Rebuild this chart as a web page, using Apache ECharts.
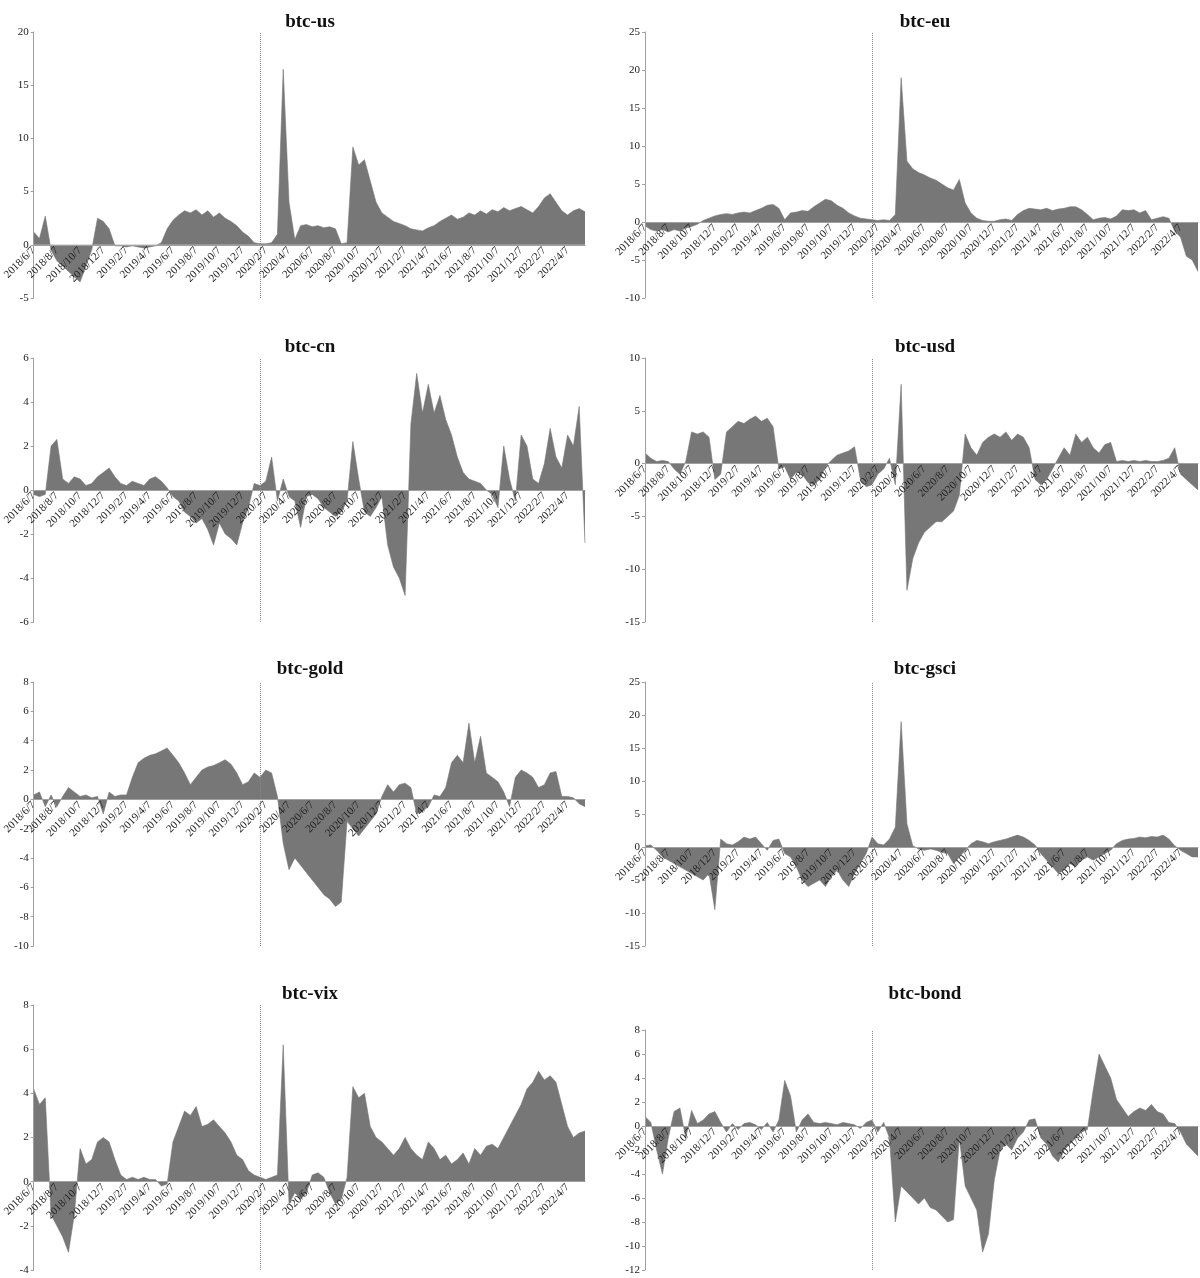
<!DOCTYPE html>
<html>
<head>
<meta charset="utf-8">
<script src="https://cdn.jsdelivr.net/npm/echarts@6/dist/echarts.min.js"></script>
<style>
  html, body { margin: 0; padding: 0; background: #fff; }
  #chart { width: 1200px; height: 1278px; }
</style>
</head>
<body>
<div id="chart"></div>
<script>
// semi-monthly dates from 2018/6/7 to 2022/5/22
const dates = [];
for (let i = 0; i < 96; i += 1) {
  const m = 5 + Math.floor(i / 2);
  const y = 2018 + Math.floor(m / 12);
  dates.push(`${y}/${(m % 12) + 1}/${i % 2 === 0 ? 7 : 22}`);
}

const btcUs = [1.2,0.6,2.7,-0.5,-1.5,-2,-2.5,-3,-3.5,-2,-0.5,2.5,2.2,1.5,-0.1,-0.1,-0.2,-0.1,-0.2,-0.3,-0.2,-0.1,0.2,1.5,
  2.3,2.8,3.2,3,3.3,2.8,3.2,2.6,3,2.5,2.2,1.8,1.2,0.8,0.2,0.1,0.1,0.2,1,16.5,4,0.5,1.8,1.9,1.7,1.8,1.6,1.7,1.5,0.1,
  0.2,9.2,7.5,8,6,4,3,2.6,2.2,2,1.8,1.5,1.4,1.3,1.6,1.8,2.2,2.5,2.8,2.4,2.6,3,2.8,3.2,2.9,3.3,3.1,3.5,3.2,3.4,3.6,
  3.3,3,3.6,4.4,4.8,4,3.2,2.8,3.2,3.4,3.1];
const btcEu = [-0.5,-1,-1.2,-1,-1.3,-1,-1.2,-0.8,-0.6,-0.3,0.2,0.5,0.8,1,1.1,1,1.2,1.3,1.2,1.5,1.8,2.2,2.3,1.8,0.3,
  1.2,1.3,1.5,1.4,2,2.5,3,2.8,2.2,1.8,1.2,0.8,0.5,0.4,0.3,0.2,0.3,0.2,1,19,8,7,6.5,6.2,5.8,5.5,5,4.5,4.2,5.6,2.5,
  1.2,0.5,0.2,0.1,0.1,0.3,0.4,0.2,1,1.5,1.8,1.7,1.6,1.8,1.5,1.7,1.8,2,2,1.6,1,0.3,0.5,0.6,0.4,0.8,1.6,1.5,1.6,1.2,
  1.5,0.3,0.5,0.7,0.5,-1.2,-2,-4.5,-5,-6.5];
const btcCn = [-0.2,-0.3,-0.2,2,2.3,0.5,0.3,0.6,0.5,0.2,0.3,0.6,0.8,1,0.6,0.3,0.2,0.4,0.3,0.2,0.5,0.6,0.4,0.1,-0.3,
  -0.5,-1,-1.2,-1.5,-1.3,-1.8,-2.5,-1.5,-2,-2.2,-2.5,-1.5,-0.8,0.3,0.2,0.4,1.5,-0.5,0.5,-0.3,-0.5,-1.7,-0.3,-0.2,
  -0.4,-0.8,-1,-1.2,-1,-0.5,2.2,0.5,-1,-1.2,-0.8,-0.3,-2.5,-3.5,-4,-4.8,3,5.3,3.5,4.8,3.5,4.3,3.2,2.5,1.5,0.8,0.5,
  0.4,0.3,0,-0.2,-0.8,2,0.5,-0.5,2.5,2,0.5,0.3,1.2,2.8,1.5,1,2.5,2,3.8,-2.4];
const btcUsd = [1,0.5,0.2,0.3,0.2,-0.5,-1,0.2,3,2.8,3,2.5,-1.5,-1,3,3.5,4,3.8,4.2,4.5,4,4.3,3.5,-0.5,-0.3,-1.5,-0.8,
  -1,-1.8,-2,-1.5,-0.3,0.3,0.8,1,1.2,1.6,-1.5,-2.2,-2,-1,-0.5,0.5,-2,7.5,-12,-9,-7.5,-6.5,-6,-5.5,-5.5,-5,-4.5,-3,
  2.8,1.5,0.8,2,2.5,2.8,2.5,3,2.2,2.8,2.5,1.5,-1.5,-2,-1.5,-0.5,0.5,1.5,0.8,2.8,2,2.5,1.5,1,1.8,2,0.2,0.3,0.2,0.3,
  0.2,0.3,0.2,0.2,0.3,0.5,1.5,-1,-1.5,-2,-2.5];
const btcGold = [0.3,0.5,-0.5,0.3,-0.5,0.2,0.8,0.5,0.2,0.3,0.1,0.2,-1,0.5,0.2,0.3,0.3,1.5,2.5,2.8,3,3.1,3.3,3.5,3,
  2.5,1.8,1,1.5,2,2.2,2.3,2.5,2.7,2.4,1.8,1,1.2,1.8,1.5,2,1.8,0.2,-3,-4.8,-4,-4.5,-5,-5.5,-6,-6.5,-6.8,-7.3,-7,-1.5,
  -2,-2.5,-2,-1.5,-1,0.2,1,0.5,1,1.1,0.8,-1,-0.8,-0.5,0.3,0.2,0.8,2.5,3,2.5,5.2,2.5,4.3,1.8,1.5,1.2,0.5,-0.5,1.5,2,
  1.8,1.5,0.8,1,1.8,1.9,0.2,0.2,0.1,-0.3,-0.5];
const btcGsci = [0.2,0.3,-0.5,-1.5,-2,-2.5,-3,-3.5,-4,-4.5,-5,-4,-9.5,1.2,0.5,0.3,0.8,1.5,1.2,1.5,0.5,-0.5,1,1.2,-1,
  -1.5,-3,-5,-6,-5.5,-5,-6,-4.5,-3.5,-5,-6,-4,-2.5,-1,1.5,0.5,0.3,1.2,3,19,3.5,0.2,-0.3,-0.5,-0.3,-0.5,-0.8,-1,-2.5,
  -1.5,-0.5,0.5,1,0.8,0.5,0.8,1,1.2,1.5,1.8,1.5,1,0.3,-1,-2,-3,-4,-3.5,-2.5,-3,-2,-1.5,-2,-1.5,-1,-0.5,0.5,1,1.2,
  1.3,1.5,1.4,1.6,1.5,1.8,1.2,0.2,-0.5,-1,-1.5,-1.5];
const btcVix = [4.2,3.5,3.8,-1.5,-2,-2.5,-3.2,-1.5,1.5,0.8,1,1.8,2,1.8,1,0.3,0.1,0.2,0.1,0.2,0.1,0.1,-0.2,-0.1,1.8,
  2.5,3.2,3,3.4,2.5,2.6,2.8,2.5,2.2,1.8,1.2,1,0.5,0.3,0.2,0.1,0.2,0.3,6.2,-1,-0.5,-0.8,-0.5,0.3,0.4,0.2,-0.5,-1,-0.8,
  0.2,4.3,3.8,4,2.5,2,1.8,1.5,1.2,1.5,2,1.5,1.2,1,1.8,1.5,1,1.2,0.8,1,1.3,0.8,1.5,1.2,1.6,1.7,1.5,2,2.5,3,3.5,4.2,
  4.5,5,4.6,4.8,4.5,3.5,2.5,2,2.2,2.3];
const btcBond = [0.8,0.3,-2,-4,-1,1.2,1.5,-1,1.3,0.2,0.5,1,1.2,0.3,-0.5,0.2,-0.3,0.2,0.3,0.1,-0.3,0.3,-0.5,0.5,3.8,
  2.5,-0.5,0.5,1,0.3,0.2,0.3,0.2,0.1,0.3,0.2,0.1,-0.2,0.3,0.5,-0.5,0.3,-1,-8,-5,-5.5,-6,-6.5,-6,-6.8,-7,-7.5,-8,-7.8,
  -1,-5,-6,-7,-10.5,-9,-4.5,-2,-1.5,-2,-1,-0.5,0.5,0.6,-1,-1.5,-2.5,-3,-2,-1.5,-1,-0.5,-0.3,3,6,5,4,2.2,1.5,0.8,
  1.2,1.5,1.3,1.8,1.2,1,0.3,0.2,-0.5,-1.5,-2,-2.5];

const panels = [
  { title: 'btc-us', data: btcUs, min: -5, max: 20, interval: 5, left: 30, top: 32, bottom: 298 },
  { title: 'btc-eu', data: btcEu, min: -10, max: 25, interval: 5, left: 645, top: 32, bottom: 298 },
  { title: 'btc-cn', data: btcCn, min: -6, max: 6, interval: 2, left: 30, top: 358, bottom: 622 },
  { title: 'btc-usd', data: btcUsd, min: -15, max: 10, interval: 5, left: 645, top: 358, bottom: 622 },
  { title: 'btc-gold', data: btcGold, min: -10, max: 8, interval: 2, left: 30, top: 682, bottom: 946 },
  { title: 'btc-gsci', data: btcGsci, min: -15, max: 25, interval: 5, left: 645, top: 682, bottom: 946 },
  { title: 'btc-vix', data: btcVix, min: -4, max: 8, interval: 2, left: 30, top: 1005, bottom: 1270 },
  { title: 'btc-bond', data: btcBond, min: -12, max: 8, interval: 2, left: 645, top: 1030, bottom: 1270 }
];
const titleTops = [8, 8, 333, 333, 655, 655, 980, 980];

const serif = '"Liberation Serif", "Times New Roman", serif';
const axisGray = '#a0a0a0';
const fill = '#777777';

// place the category axis on the zero line by offsetting it up from the grid bottom
function zeroOffset(p) {
  const h = p.bottom - p.top;
  return -h * (0 - p.min) / (p.max - p.min);
}

const chart = echarts.init(document.getElementById('chart'));
chart.setOption({
  animation: false,
  title: panels.map((p, i) => ({
    text: p.title,
    left: p.left < 100 ? 305 : 920,
    top: titleTops[i],
    textAlign: 'center',
    textStyle: { fontFamily: serif, fontSize: 19, fontWeight: 'bold', color: '#111' }
  })),
  grid: panels.map((p) => ({
    left: p.left,
    width: p.left < 100 ? 555 : 553,
    top: p.top,
    height: p.bottom - p.top
  })),
  xAxis: panels.map((p, i) => ({
    type: 'category',
    gridIndex: i,
    data: dates,
    boundaryGap: false,
    position: 'bottom',
    offset: zeroOffset(p),
    z: 10,
    axisLine: { onZero: false, lineStyle: { color: axisGray } },
    axisTick: { show: false },
    axisLabel: {
      interval: 3,
      rotate: 45,
      fontFamily: serif,
      fontSize: 11,
      color: '#222',
      margin: 4
    },
    splitLine: { show: false }
  })),
  yAxis: panels.map((p, i) => ({
    type: 'value',
    gridIndex: i,
    min: p.min,
    max: p.max,
    interval: p.interval,
    z: 10,
    axisLine: { show: true, lineStyle: { color: axisGray } },
    axisTick: { show: true, length: 3, lineStyle: { color: axisGray } },
    axisLabel: { fontFamily: serif, fontSize: 11, color: '#222', margin: 5 },
    splitLine: { show: false }
  })),
  series: panels.map((p, i) => ({
    type: 'line',
    xAxisIndex: i,
    yAxisIndex: i,
    data: p.data,
    symbol: 'none',
    z: 1,
    lineStyle: { width: 0.6, color: fill },
    areaStyle: { color: fill, opacity: 1 },
    markLine: {
      silent: true,
      symbol: 'none',
      label: { show: false },
      lineStyle: { type: 'dotted', color: '#888', width: 1 },
      data: [{ xAxis: 39 }]
    }
  }))
});
</script>
</body>
</html>
